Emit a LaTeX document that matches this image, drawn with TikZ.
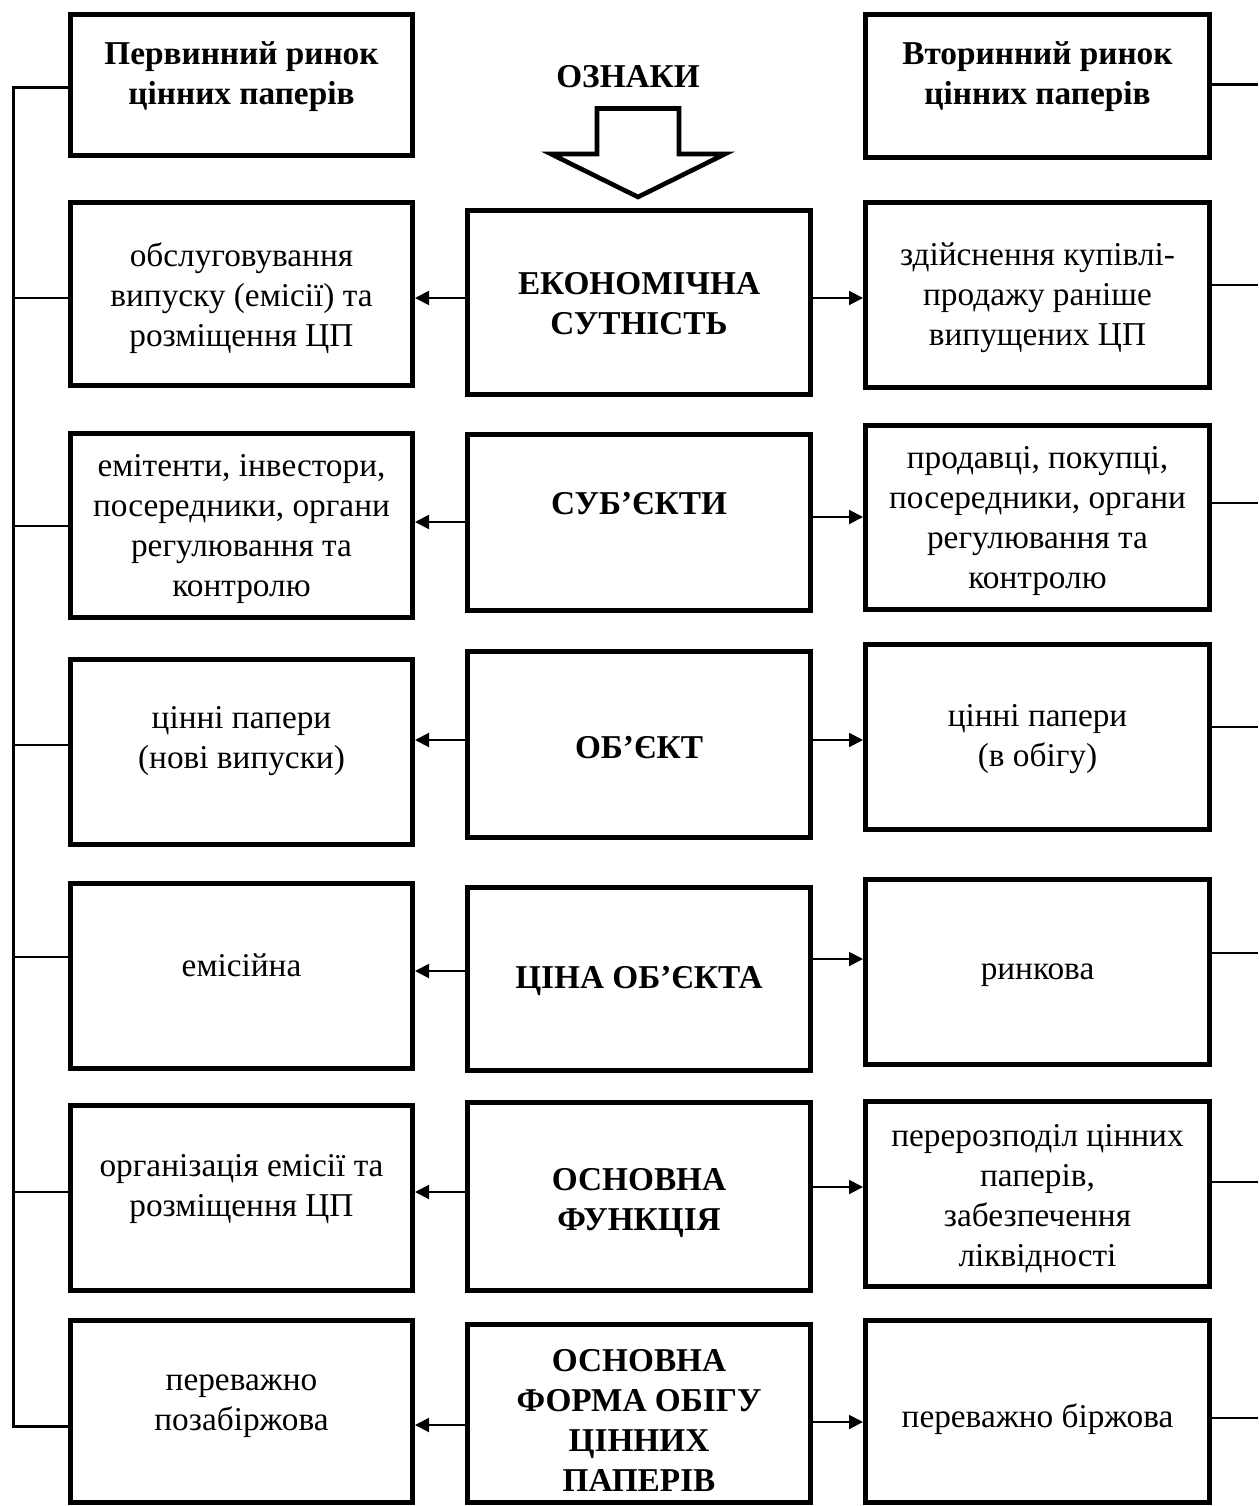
\documentclass[tikz,border=0pt]{standalone}
\usepackage{fontspec}
\setmainfont{Liberation Serif}
\usetikzlibrary{arrows.meta}
\begin{document}
\begin{tikzpicture}[x=1pt,y=-1pt,
  box/.style={draw, line width=5pt, inner sep=0pt, fill=white},
  txt/.style={align=center, inner sep=0pt, font=\fontsize{33.3}{40}\selectfont},
  btxt/.style={txt, font=\fontsize{33.3}{40}\selectfont\bfseries},
  arr/.style={line width=2pt, -{Triangle[length=14pt,width=14pt]}},
  tick/.style={line width=2.4pt},
  trunk/.style={line width=3pt}]
\useasboundingbox (0,0) rectangle (1258,1506);
% ---------- heading row ----------
\node[box, minimum width=342pt, minimum height=141pt] (l0) at (241.5,85) {};
\node[btxt] (tl0) at (241.5,77) {Первинний ринок\\цінних паперів};
\node[box, minimum width=344pt, minimum height=143pt] (r0) at (1037.5,86) {};
\node[btxt] (tr0) at (1037.5,77) {Вторинний ринок\\цінних паперів};
\node[btxt] (oz) at (628,77) {ОЗНАКИ};
\draw[line width=4.6pt, line join=miter, miter limit=10]
  (597,108.5) -- (679,108.5) -- (679,154) -- (725,154) -- (638,197) -- (551,154) -- (597,154) -- cycle;
% ---------- left column ----------
\node[box, minimum width=342pt, minimum height=183pt] (l1) at (241.5,294) {};
\node[txt] (tl1) at (241.5,298) {обслуговування\\випуску (емісії) та\\розміщення ЦП};
\node[box, minimum width=342pt, minimum height=184pt] (l2) at (241.5,525.5) {};
\node[txt] (tl2) at (241.5,529) {емітенти, інвестори,\\посередники, органи\\регулювання та\\контролю};
\node[box, minimum width=342pt, minimum height=185pt] (l3) at (241.5,752) {};
\node[txt] (tl3) at (241.5,741) {цінні папери\\(нові випуски)};
\node[box, minimum width=342pt, minimum height=185pt] (l4) at (241.5,976) {};
\node[txt] (tl4) at (241.5,965) {емісійна};
\node[box, minimum width=342pt, minimum height=185pt] (l5) at (241.5,1198) {};
\node[txt] (tl5) at (241.5,1189) {організація емісії та\\розміщення ЦП};
\node[box, minimum width=342pt, minimum height=182pt] (l6) at (241.5,1411.5) {};
\node[txt] (tl6) at (241.5,1406) {переважно\\позабіржова};
% ---------- centre column ----------
\node[box, minimum width=343pt, minimum height=184pt] (c1) at (639,302.5) {};
\node[btxt] (tc1) at (639,304) {ЕКОНОМІЧНА\\СУТНІСТЬ};
\node[box, minimum width=343pt, minimum height=176pt] (c2) at (639,522.5) {};
\node[btxt] (tc2) at (639,504) {СУБ’ЄКТИ};
\node[box, minimum width=343pt, minimum height=186pt] (c3) at (639,744.5) {};
\node[btxt] (tc3) at (639,748) {ОБ’ЄКТ};
\node[box, minimum width=343pt, minimum height=183pt] (c4) at (639,979) {};
\node[btxt] (tc4) at (639,981) {ЦІНА ОБ’ЄКТА};
\node[box, minimum width=343pt, minimum height=188pt] (c5) at (639,1196.5) {};
\node[btxt] (tc5) at (639,1203) {ОСНОВНА\\ФУНКЦІЯ};
\node[box, minimum width=343pt, minimum height=178pt] (c6) at (639,1413.5) {};
\node[btxt] (tc6) at (639,1421) {ОСНОВНА\\ФОРМА ОБІГУ\\ЦІННИХ\\ПАПЕРІВ};
% ---------- right column ----------
\node[box, minimum width=344pt, minimum height=185pt] (r1) at (1037.5,295) {};
\node[txt] (tr1) at (1037.5,298) {здійснення купівлі-\\продажу раніше\\випущених ЦП};
\node[box, minimum width=344pt, minimum height=184pt] (r2) at (1037.5,517.5) {};
\node[txt] (tr2) at (1037.5,521) {продавці, покупці,\\посередники, органи\\регулювання та\\контролю};
\node[box, minimum width=344pt, minimum height=185pt] (r3) at (1037.5,737) {};
\node[txt] (tr3) at (1037.5,739) {цінні папери\\(в обігу)};
\node[box, minimum width=344pt, minimum height=185pt] (r4) at (1037.5,972) {};
\node[txt] (tr4) at (1037.5,975) {ринкова};
\node[box, minimum width=344pt, minimum height=185pt] (r5) at (1037.5,1194) {};
\node[txt] (tr5) at (1037.5,1199) {перерозподіл цінних\\паперів,\\забезпечення\\ліквідності};
\node[box, minimum width=344pt, minimum height=182pt] (r6) at (1037.5,1411.5) {};
\node[txt] (tr6) at (1037.5,1419) {переважно біржова};
% ---------- arrows ----------
\draw[arr] (c1.west |- 0,298) -- (l1.east |- 0,298);
\draw[arr] (c1.east |- 0,298) -- (r1.west |- 0,298);
\draw[arr] (c2.west |- 0,522) -- (l2.east |- 0,522);
\draw[arr] (c2.east |- 0,517) -- (r2.west |- 0,517);
\draw[arr] (c3.west |- 0,740) -- (l3.east |- 0,740);
\draw[arr] (c3.east |- 0,740) -- (r3.west |- 0,740);
\draw[arr] (c4.west |- 0,971) -- (l4.east |- 0,971);
\draw[arr] (c4.east |- 0,959) -- (r4.west |- 0,959);
\draw[arr] (c5.west |- 0,1192) -- (l5.east |- 0,1192);
\draw[arr] (c5.east |- 0,1187) -- (r5.west |- 0,1187);
\draw[arr] (c6.west |- 0,1425) -- (l6.east |- 0,1425);
\draw[arr] (c6.east |- 0,1422) -- (r6.west |- 0,1422);
% ---------- left bus ----------
\coordinate (bt) at (13,88);
\coordinate (bb) at (13,1426);
\draw[trunk] (l0.west |- bt) -- (bt) -- (bb) -- (l6.west |- bb);
\draw[tick] (l1.west |- 0,298) -- (bt |- 0,298);
\draw[tick] (l2.west |- 0,526) -- (bt |- 0,526);
\draw[tick] (l3.west |- 0,745) -- (bt |- 0,745);
\draw[tick] (l4.west |- 0,957) -- (bt |- 0,957);
\draw[tick] (l5.west |- 0,1192) -- (bt |- 0,1192);
% ---------- right ticks ----------
\coordinate (re) at (1258,0);
\draw[trunk] (r0.east |- 0,85) -- (re |- 0,85);
\draw[tick] (r1.east |- 0,285) -- (re |- 0,285);
\draw[tick] (r2.east |- 0,503) -- (re |- 0,503);
\draw[tick] (r3.east |- 0,727) -- (re |- 0,727);
\draw[tick] (r4.east |- 0,953) -- (re |- 0,953);
\draw[tick] (r5.east |- 0,1182) -- (re |- 0,1182);
\draw[tick] (r6.east |- 0,1418) -- (re |- 0,1418);
\end{tikzpicture}
\end{document}
